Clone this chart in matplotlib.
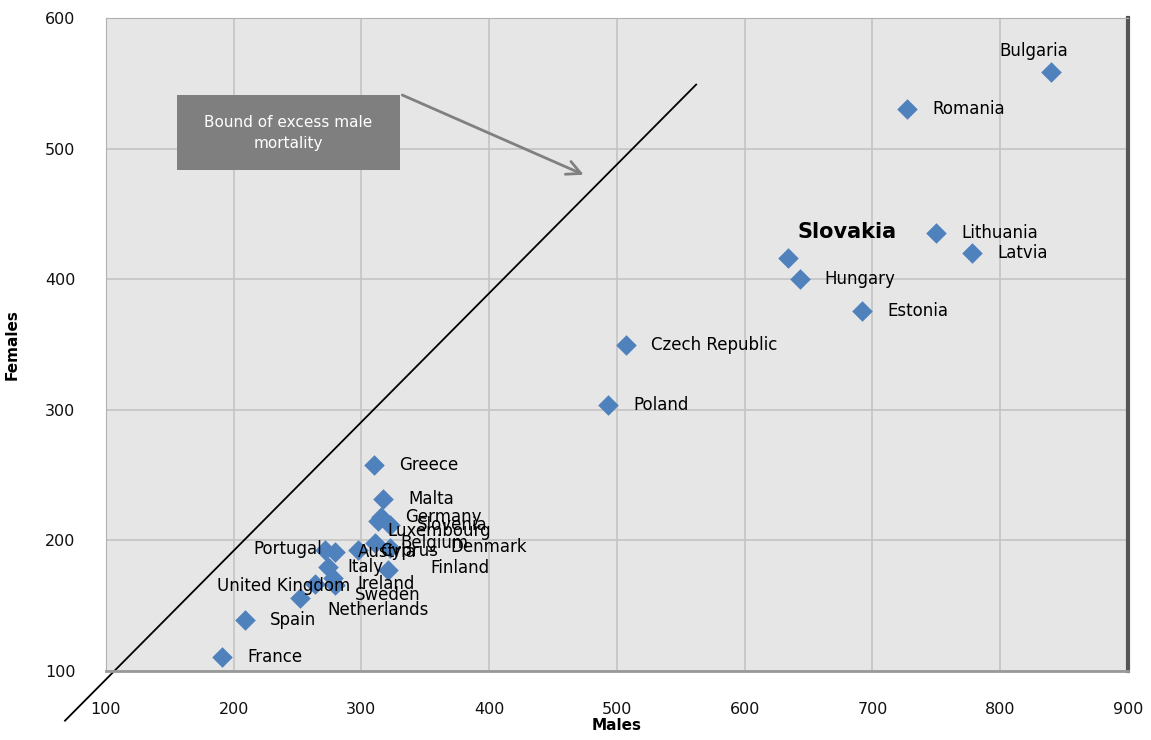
import numpy as np
import matplotlib
matplotlib.use("Agg")
import matplotlib.pyplot as plt
from matplotlib.patches import Rectangle

# Standardised death rates, males vs females
countries = ["Austria", "Belgium", "Bulgaria", "Cyprus", "Czech Republic", "Denmark",
             "Estonia", "Finland", "France", "Germany", "Greece", "Hungary", "Ireland",
             "Italy", "Latvia", "Lithuania", "Luxembourg", "Malta", "Netherlands",
             "Poland", "Portugal", "Romania", "Slovakia", "Slovenia", "Spain", "Sweden",
             "United Kingdom"]
males = [279.5, 311, 840, 297, 507, 322.5,
         692, 321, 191, 315, 310, 643, 278,
         274, 778, 750, 313, 317, 252,
         493, 271.5, 727, 634, 322.5, 209, 279,
         264]
females = [191, 198, 559, 193, 350, 194,
           376, 177, 111, 218, 258, 400, 171,
           180, 420, 435, 215, 232, 156,
           304, 193, 530, 416, 212, 139, 166,
           167]

# bound of excess male mortality (diagonal)
bound_x = [68, 562]
bound_y = [62, 549]

# label offsets in pixels (dx, dy, ha)
label_off = {
    "Bulgaria": (-52, 21, "left"), "Slovakia": (9, 26, "left"),
    "Luxembourg": (9, -10, "left"), "Denmark": (60, 1, "left"),
    "Finland": (42, 2, "left"), "Portugal": (-3, 1, "right"),
    "Italy": (19, 0, "left"), "Ireland": (24, -6, "left"),
    "United Kingdom": (-98, -2, "left"), "Sweden": (20, -10, "left"),
    "Netherlands": (27, -12, "left"), "Cyprus": (23, -1, "left"),
    "Austria": (23, 0, "left"), "Slovenia": (27, 0, "left"),
}

plt.rcParams['font.family'] = ['DejaVu Sans']

fig = plt.figure(figsize=(11.51, 7.40), dpi=100)
ax = fig.add_axes([0.092, 0.0932, 0.888, 0.8825])
ax.set_facecolor("#e6e6e6")

ax.set_xlim(100, 900)
ax.set_ylim(100, 600)
ax.set_xticks(np.arange(100, 901, 100))
ax.set_yticks(np.arange(100, 601, 100))
ax.grid(True, color="#c4c4c4", lw=1.2)
ax.set_axisbelow(True)
ax.tick_params(length=0, labelsize=11.5, colors="#111111")
ax.tick_params(axis="x", pad=22)
ax.tick_params(axis="y", pad=22)
for s in ax.spines.values():
    s.set_color("#b0b0b0")
ax.spines["right"].set_color("#555555")
ax.spines["right"].set_linewidth(3)
ax.spines["bottom"].set_color("#999999")
ax.spines["bottom"].set_linewidth(2)

ax.plot(bound_x, bound_y, color="black", lw=1.3, clip_on=False, zorder=2)

ax.scatter(males, females, marker="D", s=110, color="#4f81bd", zorder=3, linewidths=0)

for c, x, y in zip(countries, males, females):
    dx, dy, ha = label_off.get(c, (25, 0, "left"))
    if c == "Slovakia":
        ax.annotate(c, (x, y), xytext=(dx, dy), textcoords="offset pixels",
                    ha=ha, va="center", fontsize=15, fontweight="bold", zorder=4)
    else:
        ax.annotate(c, (x, y), xytext=(dx, dy), textcoords="offset pixels",
                    ha=ha, va="center", fontsize=12, zorder=4)

# annotation box
ax.add_patch(Rectangle((155.6, 483.6), 174.8, 57.4, facecolor="#7f7f7f",
                       edgecolor="none", zorder=4))
ax.text(243, 512, "Bound of excess male\nmortality", color="white", fontsize=11,
        ha="center", va="center", linespacing=1.5, zorder=5)
ax.annotate("", xy=(474, 480), xytext=(332, 541),
            arrowprops=dict(arrowstyle="->", color="#808080", lw=2,
                            mutation_scale=25, shrinkA=0, shrinkB=0), zorder=5)

ax.set_xlabel("Males", fontsize=11, fontweight="bold", labelpad=1)
ax.set_ylabel("Females", fontsize=11, fontweight="bold", labelpad=18)

fig.savefig("out.png", dpi=100)
